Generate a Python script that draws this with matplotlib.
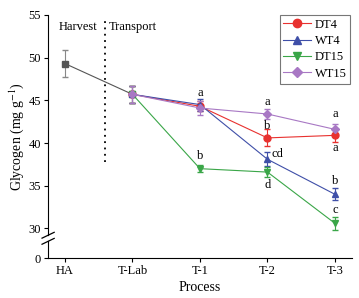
import numpy as np
import matplotlib
matplotlib.use('Agg')
import matplotlib.pyplot as plt
from matplotlib.lines import Line2D

plt.rcParams['font.family'] = ['Liberation Serif', 'DejaVu Serif']
plt.rcParams['mathtext.fontset'] = 'stix'

# data
stages = ['HA', 'T-Lab', 'T-1', 'T-2', 'T-3']
base_y = [49.3, 45.7]
base_err = [1.6, 1.0]
dt4 = [45.7, 44.3, 40.6, 40.9]
dt4_err = [1.0, 0.6, 1.0, 0.8]
wt4 = [45.7, 44.5, 38.1, 34.0]
wt4_err = [1.0, 0.7, 0.8, 0.7]
dt15 = [45.7, 37.0, 36.6, 30.6]
dt15_err = [1.0, 0.4, 0.6, 0.8]
wt15 = [45.7, 44.1, 43.4, 41.6]
wt15_err = [1.0, 0.8, 0.6, 0.6]

ybot = 26.5  # value shown as "0" after the axis break

fig = plt.figure(figsize=(3.59, 2.98), dpi=100)
ax = fig.add_axes([0.134, 0.133, 0.846, 0.817])

x_all = np.arange(len(stages))
xt = x_all[1:]

ax.errorbar(x_all[:2], base_y, yerr=base_err, color='#555555', marker='s', ms=5,
            lw=0.8, elinewidth=0.8, capsize=2.5, ecolor='#888888')

series = [('DT4', dt4, dt4_err, '#e8312f', 'o', 5),
          ('WT4', wt4, wt4_err, '#3f4fa8', '^', 5),
          ('DT15', dt15, dt15_err, '#3aa648', 'v', 5),
          ('WT15', wt15, wt15_err, '#a878c4', 'D', 4)]
handles = []
for name, vals, err, c, m, ms in series:
    ax.errorbar(xt, vals, yerr=err, color=c, marker=m, ms=ms, lw=0.8,
                elinewidth=0.8, capsize=2.5)
    handles.append(Line2D([], [], color=c, marker=m, ms=ms + 1, lw=0.8, label=name))

# significance letters
letters = [(2, 45.2, 'a'), (2, 37.8, 'b'),
           (3, 44.1, 'a'), (3, 41.3, 'b'), (3.15, 38.0, 'cd'), (3, 34.4, 'd'),
           (4, 42.7, 'a'), (4, 38.7, 'a'), (4, 34.9, 'b'), (4, 31.5, 'c')]
for xx, yy, s in letters:
    ax.text(xx, yy, s, ha='center', va='bottom', fontsize=9)

# harvest / transport divider
ax.plot([0.59, 0.59], [37.8, 54.3], ls=(0, (1, 2.5)), color='black', lw=1.3)
ax.text(0.2, 53.6, 'Harvest', ha='center', va='center', fontsize=9)
ax.text(1.0, 53.6, 'Transport', ha='center', va='center', fontsize=9)

ax.set_xlim(-0.25, 4.25)
ax.set_ylim(ybot, 55)
ax.set_xticks(x_all)
ax.set_xticklabels(stages, fontsize=9)
ax.set_yticks([ybot, 30, 35, 40, 45, 50, 55])
ax.set_yticklabels(['0', '30', '35', '40', '45', '50', '55'], fontsize=9)
ax.tick_params(direction='out', length=3, width=0.8, pad=2)
ax.spines['top'].set_visible(False)
ax.spines['right'].set_visible(False)
ax.set_xlabel('Process', fontsize=10, labelpad=3)
ax.set_ylabel('Glycogen (mg g$^{-1}$)', fontsize=10, labelpad=2)

# axis break marks
bx = [-0.02, 0.02]
ax.plot([0, 0], [0.078, 0.087], transform=ax.transAxes, color='white', lw=2,
        clip_on=False, zorder=5)
for yb in [0.07, 0.095]:
    ax.plot(bx, [yb - 0.012, yb + 0.012], transform=ax.transAxes, color='black',
            lw=0.9, clip_on=False, zorder=6)

leg = ax.legend(handles=handles, loc='upper right', fontsize=9, frameon=True,
                fancybox=False, edgecolor='#555555', handlelength=2.2,
                handletextpad=0.3, borderpad=0.3, labelspacing=0.35,
                borderaxespad=0, bbox_to_anchor=(0.995, 1.0))
leg.get_frame().set_linewidth(0.8)

fig.savefig('out.png', dpi=100)
